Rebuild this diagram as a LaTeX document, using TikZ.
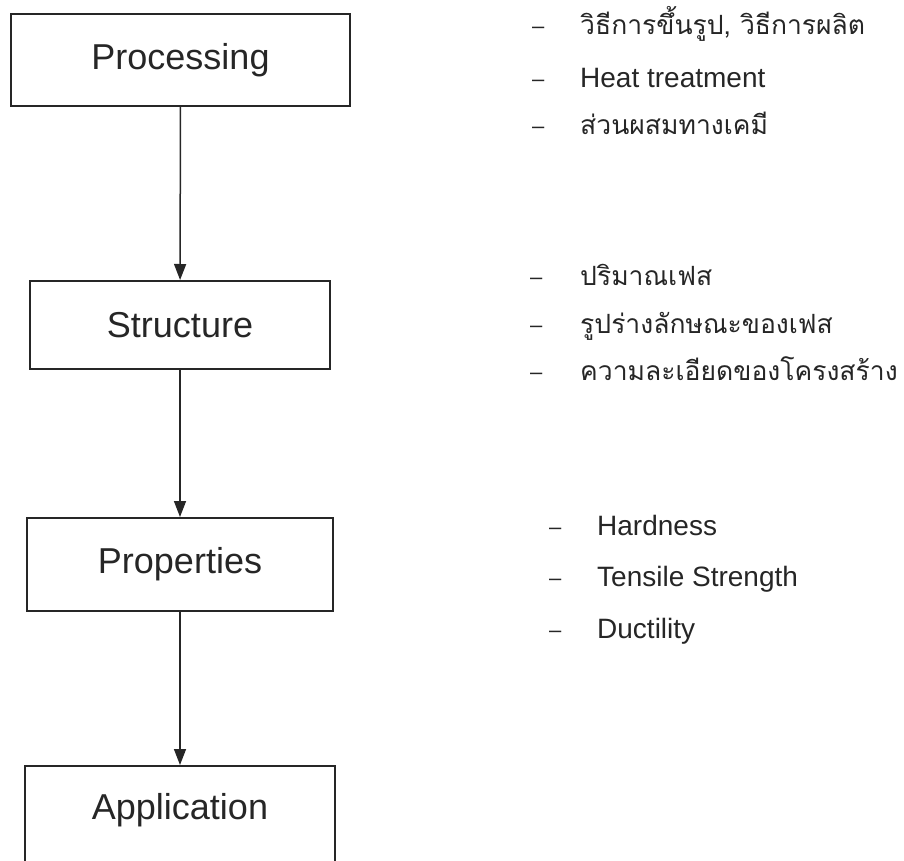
\documentclass[tikz,border=0pt]{standalone}
\usepackage{fontspec}
\setmainfont{Liberation Sans}
\newfontfamily\thaifont[Script=Thai]{Loma}
\usetikzlibrary{arrows.meta,positioning}

\tikzset{
    stagebox/.style={draw=black!85, line width=2pt, inner sep=0pt,
        minimum height=92pt, text=black!85, font=\fontsize{36}{40}\selectfont},
    flow/.style={-{Triangle[width=12pt,length=16pt]}, line width=1.5pt, draw=black!85},
    item/.style={anchor=base west, inner sep=0pt, text=black!85,
        font=\fontsize{28}{32}\selectfont},
    thaiitem/.style={item, font=\thaifont\fontsize{26.5}{30}\selectfont},
    dashmark/.style={anchor=base west, inner sep=0pt, text=black!85,
        font=\fontsize{22}{24}\selectfont}
}

\begin{document}
\begin{tikzpicture}[x=1pt,y=-1pt]
    \clip (0,0) rectangle (904,861);

    % Stages of the chain
    \node[stagebox, minimum width=339pt] (proc) at (180.5,60) {Processing};
    \node[stagebox, minimum width=300pt, minimum height=88pt] (struct) at (180,325) {Structure};
    \node[stagebox, minimum width=306pt, minimum height=93pt] (prop) at (180,564.5) {Properties};
    \node[stagebox, minimum width=310pt, minimum height=100pt, text depth=20pt] (appl) at (180,816) {Application};

    \draw[flow] (proc) -- (struct);
    \draw[flow] (struct) -- (prop);
    \draw[flow] (prop) -- (appl);

    % Notes beside each stage
    \node[dashmark] (procA-dash) at (532,34) {–};
    \node[thaiitem] (procA) at (580,35) {วิธีการขึ้นรูป, วิธีการผลิต};
    \node[dashmark] (procB-dash) at (532,87) {–};
    \node[item] (procB) at (580,88) {Heat treatment};
    \node[dashmark] (procC-dash) at (532,134) {–};
    \node[thaiitem] (procC) at (580,135) {ส่วนผสมทางเคมี};

    \foreach \nm/\yy/\txt in {structA/285/{ปริมาณเฟส},
                              structB/333/{รูปร่างลักษณะของเฟส},
                              structC/380/{ความละเอียดของโครงสร้าง}} {
        \node[dashmark] (\nm-dash) at (530,\yy-1) {–};
        \node[thaiitem] (\nm) at (580,\yy) {\txt};
    }
    \foreach \nm/\yy/\txt in {propA/535/{Hardness},
                              propB/586/{Tensile Strength},
                              propC/638/{Ductility}} {
        \node[dashmark] (\nm-dash) at (549,\yy-1) {–};
        \node[item] (\nm) at (597,\yy) {\txt};
    }
\end{tikzpicture}
\end{document}
